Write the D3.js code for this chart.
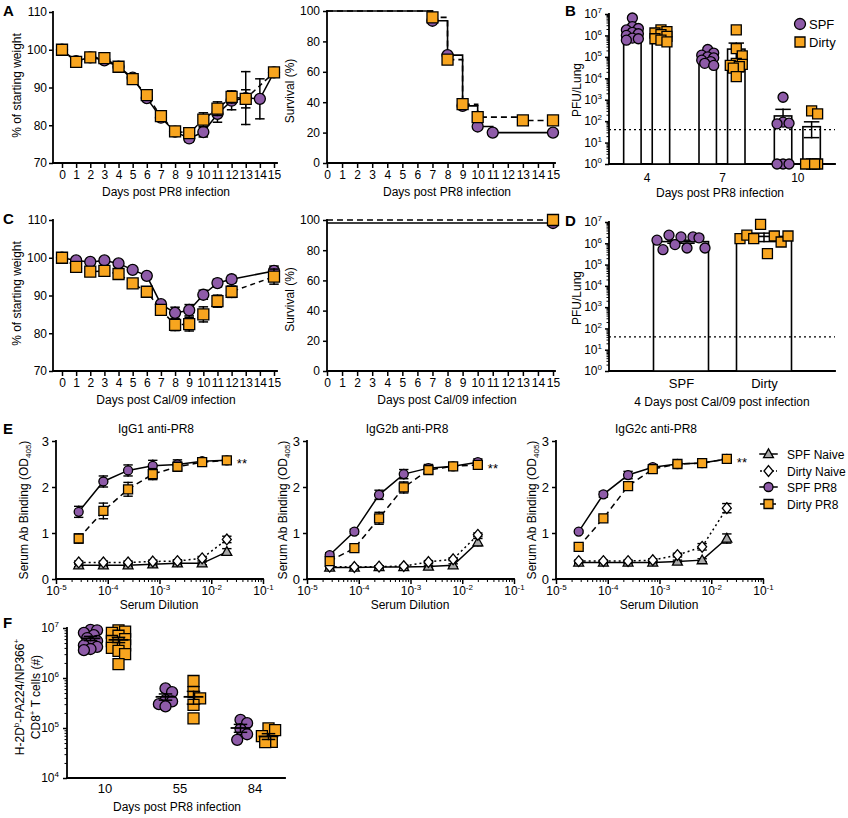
<!DOCTYPE html>
<html><head><meta charset="utf-8">
<script src="https://cdn.jsdelivr.net/npm/d3@7/dist/d3.min.js"></script>
<style>html,body{margin:0;padding:0;background:#fff}svg{display:block}</style>
</head><body>
<svg id="c" width="848" height="818" xmlns="http://www.w3.org/2000/svg"></svg>
<script>
// ================= DATA =================
const weightDays = [0,1,2,3,4,5,6,7,8,9,10,11,12,13,14,15];
const weightTicks = [70,80,90,100,110];
// A: weight after PR8
const weightA_SPF       = [100,97.0,98.0,97.2,95.5,92.6,87.2,82.0,78.3,76.5,78.2,83.0,86.5,87.2,87.0,94.0];
const weightA_SPF_err   = [0,0.5,0.5,0.5,0.5,0.7,0.8,0.8,0.8,0.9,1.3,2.2,2.4,7.0,5.3,0];
const weightA_Dirty     = [100,96.8,98.0,97.8,95.5,92.2,88.0,82.4,78.4,77.9,81.5,84.4,87.5,87.0,null,94.0];
const weightA_Dirty_err = [0,0.5,0.5,0.5,0.5,0.6,0.8,0.8,0.8,0.9,1.8,1.8,1.6,2.4,null,0];
// C: weight after Cal/09
const weightC_SPF       = [100,99.3,98.9,99.3,98.5,96.8,95.2,87.7,85.4,86.1,90.2,93.3,94.3,null,null,96.5];
const weightC_SPF_err   = [0,0.6,0.5,0.6,0.5,0.6,0.8,0.8,1.5,1.5,1.2,1.0,1.0,null,null,1.3];
const weightC_Dirty     = [100,97.6,96.3,96.5,95.7,93.2,91.0,86.2,82.2,82.4,85.0,88.5,91.0,null,null,95.0];
const weightC_Dirty_err = [0,0.5,0.6,0.6,0.6,1.0,0.8,0.8,1.5,1.8,2.0,1.6,1.5,null,null,2.0];
// Survival
const survTicks = [0,20,40,60,80,100];
const survA_SPF_days = [0,7,8,9,10,11,15];
const survA_SPF      = [100,93.6,71,37.6,24,20,20];
const survA_Dirty_days = [0,7,8,9,10,13,15];
const survA_Dirty      = [100,95.8,68,38.7,30.2,28,28];
const survC_days  = [0,15];
const survC_SPF   = [98,98];
const survC_Dirty = [100,100];
// B: PFU/lung after PR8
const pfuDays = ['4','7','10'];
const pfuB_SPF = [[6.5e6,2.6e6,2.1e6,1.8e6,1.4e6,1.2e6,1.0e6,7.5e5,7e5,6e5],
                  [2.2e5,1.5e5,1.2e5,1.0e5,9e4,7e4,6e4,5e4,4e4],
                  [1300,90,80,75,1,1,1]];
const pfuB_Dirty = [[1.8e6,1.5e6,1.3e6,1.1e6,9e5,7e5,6e5,5e5],
                    [1.8e6,2.4e5,1.1e5,5e4,4.5e4,4e4,3.5e4,3e4,1.2e4],
                    [300,220,1,1,1,1]];
const pfuB_SPF_mean = [1.5e6,1.0e5,175];
const pfuB_SPF_sem  = [5.5e5,2e4,180];
const pfuB_Dirty_mean = [1.1e6,2.3e5,55];
const pfuB_Dirty_sem  = [1.5e5,2.1e5,38];
const detectionLimit = 40;
// D: PFU/lung 4 days after Cal/09
const groupsD = ['SPF','Dirty'];
const pfuD_SPF   = [1.4e6,5e5,2.4e6,8.7e5,2e6,6e5,2e6,1.8e6,6e5];
const pfuD_Dirty = [1.65e6,2.4e6,1.65e6,7.8e6,3.3e5,2.2e6,1.15e6,2.2e6];
const pfuD_mean = [1.2e6,2.1e6];
const pfuD_sem  = [2e5,9e5];
// E: serum antibody binding
const dilutions = [1/36450,1/12150,1/4050,1/1350,1/450,1/150,1/50];
const eTitles = ['IgG1 anti-PR8','IgG2b anti-PR8','IgG2c anti-PR8'];
const eSeriesNames = ['SPF Naive','Dirty Naive','SPF PR8','Dirty PR8'];
const eTicks = [0,1,2,3];
const igg1_SPFNaive   = [0.30,0.30,0.30,0.32,0.34,0.34,0.59];
const igg1_SPFNaive_e = [0.03,0.03,0.03,0.03,0.03,0.03,0.07];
const igg1_DirtyNaive   = [0.36,0.36,0.36,0.38,0.39,0.45,0.86];
const igg1_DirtyNaive_e = [0.03,0.03,0.03,0.03,0.03,0.04,0.07];
const igg1_SPFPR8   = [1.46,2.12,2.36,2.46,2.49,2.56,2.58];
const igg1_SPFPR8_e = [0.12,0.12,0.12,0.12,0.10,0.06,0.03];
const igg1_DirtyPR8   = [0.88,1.48,1.95,2.28,2.44,2.54,2.58];
const igg1_DirtyPR8_e = [0.10,0.17,0.15,0.12,0.08,0.05,0.03];
const igg2b_SPFNaive   = [0.25,0.25,0.26,0.26,0.27,0.30,0.80];
const igg2b_SPFNaive_e = [0.03,0.03,0.03,0.03,0.03,0.03,0.08];
const igg2b_DirtyNaive   = [0.27,0.26,0.27,0.28,0.37,0.43,0.96];
const igg2b_DirtyNaive_e = [0.02,0.02,0.02,0.02,0.03,0.03,0.04];
const igg2b_SPFPR8   = [0.52,1.03,1.83,2.28,2.41,2.45,2.54];
const igg2b_SPFPR8_e = [0.05,0.05,0.10,0.10,0.08,0.05,0.07];
const igg2b_DirtyPR8   = [0.39,0.67,1.32,1.99,2.37,2.45,2.48];
const igg2b_DirtyPR8_e = [0.05,0.05,0.13,0.12,0.08,0.05,0.05];
const igg2c_SPFNaive   = [0.36,0.36,0.36,0.36,0.38,0.41,0.88];
const igg2c_SPFNaive_e = [0.02,0.02,0.02,0.02,0.03,0.03,0.10];
const igg2c_DirtyNaive   = [0.39,0.39,0.39,0.41,0.52,0.70,1.54];
const igg2c_DirtyNaive_e = [0.02,0.02,0.02,0.03,0.04,0.07,0.10];
const igg2c_SPFPR8   = [1.03,1.84,2.26,2.43,2.50,2.52,2.61];
const igg2c_SPFPR8_e = [0.03,0.06,0.08,0.06,0.04,0.04,0.03];
const igg2c_DirtyPR8   = [0.70,1.32,2.02,2.39,2.50,2.52,2.61];
const igg2c_DirtyPR8_e = [0.03,0.05,0.08,0.06,0.04,0.04,0.03];
const eSig = '**';
// F: tetramer+ CD8 T cells
const tDays = ['10','55','84'];
const tcell_SPF = [[9.2e6,9e6,8e6,7.2e6,6.3e6,5.5e6,5e6,4.5e6,4.2e6,3.8e6,3.6e6],
                   [6.2e5,5.2e5,3.6e5,3.4e5,3e5,2.7e5],
                   [1.45e5,1.25e5,9.5e4,7.5e4,5.8e4]];
const tcell_Dirty = [[9e6,8.5e6,8e6,7e6,6e6,5.5e6,5e6,4.5e6,4e6,3.5e6,3e6,1.9e6],
                     [8.7e5,5.2e5,3.9e5,2.9e5,1.56e5],
                     [9.8e4,9.1e4,6.9e4,5.3e4,5.2e4]];
const tcell_SPF_mean = [6.2e6,4.2e5,1.0e5];
const tcell_SPF_sem  = [6e5,6e4,1.8e4];
const tcell_Dirty_mean = [5.8e6,4.2e5,6.8e4];
const tcell_Dirty_sem  = [7e5,1.2e5,9e3];

// ================= HELPERS =================
const svg = d3.select('#c');
const FONT = '"Liberation Sans", Arial, Helvetica, sans-serif';
const PURPLE = '#8e5ba8', ORANGE = '#f8a51f', GRAYF = '#a9a9a9';

function text(x, y, parts, o = {}) {
  const t = svg.append('text').attr('x', x).attr('y', y)
    .attr('font-family', FONT).attr('font-size', o.size || 12)
    .attr('text-anchor', o.anchor || 'middle').attr('fill', '#000');
  if (o.bold) t.attr('font-weight', 'bold');
  if (o.rot) t.attr('transform', `rotate(-90,${x},${y})`);
  if (typeof parts === 'string') parts = [[parts]];
  let shift = 0;
  parts.forEach(([s, k]) => {
    const target = k === 'sup' ? -5 : k === 'sub' ? 3 : 0;
    const ts = t.append('tspan').text(s);
    if (target !== shift) ts.attr('dy', target - shift);
    if (k) ts.attr('font-size', 8);
    shift = target;
  });
  return t;
}
function line(x1, y1, x2, y2, w = 1.6, dash = null) {
  const l = svg.append('line').attr('x1', x1).attr('y1', y1).attr('x2', x2).attr('y2', y2)
    .attr('stroke', '#000').attr('stroke-width', w).attr('stroke-linecap', 'square');
  if (dash) l.attr('stroke-dasharray', dash).attr('stroke-linecap', 'butt');
  return l;
}
function styleAxis(g, fs = 12) {
  g.select('.domain').remove();
  g.selectAll('.tick line').attr('stroke', '#000').attr('stroke-width', 1.5);
  g.selectAll('.tick text').attr('font-family', FONT).attr('font-size', fs).attr('fill', '#000');
}
function linAxis(orient, scale, pos, ticks, o = {}) {
  const A = orient === 'left' ? d3.axisLeft : d3.axisBottom;
  const tr = orient === 'left' ? `translate(${pos},0)` : `translate(0,${pos})`;
  const ax = A(scale).tickValues(ticks).tickSize(o.size ?? 4).tickPadding(o.pad ?? 3).tickSizeOuter(0)
    .tickFormat(o.fmt || (d => String(d)));
  const g = svg.append('g').attr('transform', tr).call(ax);
  styleAxis(g, o.fs || 12);
  return g;
}
function logAxis(orient, scale, pos, lo, hi, o = {}) {
  const A = orient === 'left' ? d3.axisLeft : d3.axisBottom;
  const tr = orient === 'left' ? `translate(${pos},0)` : `translate(0,${pos})`;
  const majors = [], minors = [];
  for (let e = lo; e <= hi; e++) majors.push(Math.pow(10, e));
  for (let e = lo; e < hi; e++) for (let k = 2; k < 10; k++) minors.push(k * Math.pow(10, e));
  const gm = svg.append('g').attr('transform', tr)
    .call(A(scale).tickValues(minors).tickSize(o.minor ?? 2.5).tickFormat('').tickSizeOuter(0));
  styleAxis(gm); gm.selectAll('.tick line').attr('stroke-width', 1);
  const g = svg.append('g').attr('transform', tr)
    .call(A(scale).tickValues(majors).tickSize(o.size ?? 4).tickPadding(o.pad ?? 3).tickSizeOuter(0));
  styleAxis(g, o.fs || 12);
  g.selectAll('.tick text').each(function (d) {
    const e = Math.round(Math.log10(d));
    const t = d3.select(this); t.text(null);
    t.append('tspan').text('10');
    t.append('tspan').attr('dy', -5).attr('font-size', 8).text(e);
  });
  return g;
}
function shape(type, s) {
  const h = s / 2;
  switch (type) {
    case 'circle': return d3.symbol(d3.symbolCircle, Math.PI * h * h)();
    case 'square': return `M${-h},${-h}H${h}V${h}H${-h}Z`;
    case 'triangle': return `M0,${-h * 1.15}L${h * 1.1},${h * 0.8}L${-h * 1.1},${h * 0.8}Z`;
    case 'diamond': return `M0,${-h * 1.2}L${h * 1.0},0L0,${h * 1.2}L${-h * 1.0},0Z`;
  }
}
function drawMarkers(pts, type, s, fill, sw = 1.3) {
  svg.append('g').selectAll('path').data(pts).enter().append('path')
    .attr('d', shape(type, s)).attr('transform', d => `translate(${d.x},${d.y})`)
    .attr('fill', fill).attr('stroke', '#000').attr('stroke-width', sw);
}
function errBar(x, y1, y2, cap, w = 1.5) {
  line(x, y1, x, y2, w);
  line(x - cap / 2, y1, x + cap / 2, y1, w);
  line(x - cap / 2, y2, x + cap / 2, y2, w);
}
// deterministic beeswarm placement
function swarm(vals, y, cx, r, maxW) {
  const pts = vals.map(v => ({ v, y: y(v) }));
  const order = pts.slice().sort((a, b) => a.y - b.y);
  const placed = [];
  const minD = 2 * r * 0.8;
  order.forEach(p => {
    const cands = [0];
    for (let k = 1; k <= 14; k++) cands.push(k * r * 0.6, -k * r * 0.6);
    let chosen = null, bestD = -1, bestO = 0;
    for (const o of cands) {
      if (Math.abs(o) > maxW) continue;
      const d = placed.length ? Math.min(...placed.map(q => Math.hypot(q.x - (cx + o), q.y - p.y))) : Infinity;
      if (d >= minD) { chosen = o; break; }
      if (d > bestD) { bestD = d; bestO = o; }
    }
    p.x = cx + (chosen === null ? bestO : chosen);
    placed.push(p);
  });
  return pts;
}

// ================= PANEL LETTERS =================
text(3, 16, 'A', { anchor: 'start', bold: true, size: 15 });
text(565, 16, 'B', { anchor: 'start', bold: true, size: 15 });
text(3, 224, 'C', { anchor: 'start', bold: true, size: 15 });
text(565, 226, 'D', { anchor: 'start', bold: true, size: 15 });
text(3, 434, 'E', { anchor: 'start', bold: true, size: 15 });
text(3, 628, 'F', { anchor: 'start', bold: true, size: 15 });

// ================= WEIGHT PANELS =================
function weightPanel(yTop, yBot, spf, spfE, dirty, dirtyE, xTitle) {
  const x = d3.scaleLinear().domain([0, 15]).range([62, 274]);
  const y = d3.scaleLinear().domain([70, 110]).range([yBot, yTop]);
  linAxis('left', y, 53, weightTicks, { size: 4, pad: 2 });
  linAxis('bottom', x, yBot, weightDays, { size: 5, pad: 2 });
  line(53, yTop, 53, yBot, 1.8); line(53, yBot, 277, yBot, 1.8);
  text(21, (yTop + yBot) / 2 - 2, '% of starting weight', { rot: true });
  text(166, yBot + 33, xTitle);
  const series = [
    { v: spf, e: spfE, type: 'circle', fill: PURPLE, dash: null },
    { v: dirty, e: dirtyE, type: 'square', fill: ORANGE, dash: '5,4' }];
  series.forEach(s => {
    const pts = weightDays.map((d, i) => ({ d, v: s.v[i], e: s.e[i] })).filter(p => p.v != null);
    pts.forEach(p => { p.x = x(p.d); p.y = y(p.v); });
    const path = svg.append('path').datum(pts).attr('d', d3.line().x(p => p.x).y(p => p.y))
      .attr('fill', 'none').attr('stroke', '#000').attr('stroke-width', 1.5);
    if (s.dash) path.attr('stroke-dasharray', s.dash);
    pts.forEach(p => { if (p.e > 0) errBar(p.x, y(p.v - p.e), y(p.v + p.e), 8); });
    drawMarkers(pts, s.type, 11, s.fill);
  });
}
weightPanel(12, 163, weightA_SPF, weightA_SPF_err, weightA_Dirty, weightA_Dirty_err, 'Days post PR8 infection');
weightPanel(220, 371, weightC_SPF, weightC_SPF_err, weightC_Dirty, weightC_Dirty_err, 'Days post Cal/09 infection');

// ================= SURVIVAL PANELS =================
function survPanel(yTop, yBot, sets, xTitle) {
  const x = d3.scaleLinear().domain([0, 15]).range([327, 553]);
  const y = d3.scaleLinear().domain([0, 100]).range([yBot, yTop]);
  linAxis('left', y, 327, survTicks, { size: 4, pad: 3 });
  linAxis('bottom', x, yBot, weightDays, { size: 5, pad: 2 });
  line(327, yTop, 327, yBot, 1.8); line(327, yBot, 555, yBot, 1.8);
  text(294, (yTop + yBot) / 2 + 4, 'Survival (%)', { rot: true });
  text(447, yBot + 33, xTitle);
  sets.forEach(s => {
    const pts = s.days.map((d, i) => ({ x: x(d), y: y(s.v[i]) }));
    const p = svg.append('path').datum(pts).attr('d', d3.line().x(d => d.x).y(d => d.y).curve(d3.curveStepAfter))
      .attr('fill', 'none').attr('stroke', '#000').attr('stroke-width', 1.6);
    if (s.dash) p.attr('stroke-dasharray', s.dash);
  });
  sets.forEach(s => {
    const pts = s.days.map((d, i) => ({ x: x(d), y: y(s.v[i]) })).slice(1);
    drawMarkers(pts, s.type, 11, s.fill);
  });
}
survPanel(11, 163, [
  { days: survA_SPF_days, v: survA_SPF, type: 'circle', fill: PURPLE, dash: null },
  { days: survA_Dirty_days, v: survA_Dirty, type: 'square', fill: ORANGE, dash: '6,4' }], 'Days post PR8 infection');
survPanel(220, 371, [
  { days: survC_days, v: survC_SPF, type: 'circle', fill: PURPLE, dash: null },
  { days: survC_days, v: survC_Dirty, type: 'square', fill: ORANGE, dash: '6,4' }], 'Days post Cal/09 infection');

// ================= PANEL B =================
(function () {
  const y = d3.scaleLog().domain([1, 1e7]).range([164, 14]);
  const x = d3.scalePoint().domain(pfuDays).range([609, 835]).padding(0.5);
  const sub = d3.scaleBand().domain(['SPF', 'Dirty']).range([-23, 23]).paddingInner(0.39);
  logAxis('left', y, 609, 0, 7, { size: 4, pad: 3 });
  line(609, 14, 609, 164, 1.8); line(609, 164, 835, 164, 1.8);
  linAxis('bottom', x, 164, pfuDays, { size: 0, pad: 9 });
  text(581, 90, 'PFU/Lung', { rot: true });
  text(720, 197, 'Days post PR8 infection');
  const groups = [
    { name: 'SPF', pts: pfuB_SPF, mean: pfuB_SPF_mean, sem: pfuB_SPF_sem, type: 'circle', fill: PURPLE },
    { name: 'Dirty', pts: pfuB_Dirty, mean: pfuB_Dirty_mean, sem: pfuB_Dirty_sem, type: 'square', fill: ORANGE }];
  groups.forEach(g => pfuDays.forEach((d, i) => {
    const bx = x(d) + sub(g.name);
    svg.append('rect').attr('x', bx).attr('y', y(g.mean[i])).attr('width', sub.bandwidth())
      .attr('height', y(1) - y(g.mean[i])).attr('fill', '#fff').attr('stroke', '#000').attr('stroke-width', 1.6);
  }));
  line(609, y(detectionLimit), 835, y(detectionLimit), 1.4, '2,3');
  groups.forEach(g => pfuDays.forEach((d, i) => {
    const cx = x(d) + sub(g.name) + sub.bandwidth() / 2;
    const lo = g.mean[i] - g.sem[i];
    const hiY = y(g.mean[i] + g.sem[i]);
    if (lo > 1) errBar(cx, y(lo), hiY, 14);
    else { line(cx, y(g.mean[i]), cx, hiY, 1.5); line(cx - 7, hiY, cx + 7, hiY, 1.5); }
  }));
  groups.forEach(g => pfuDays.forEach((d, i) => {
    const cx = x(d) + sub(g.name) + sub.bandwidth() / 2;
    drawMarkers(swarm(g.pts[i], y, cx, 5, 8), g.type, 10, g.fill);
  }));
  // legend
  drawMarkers([{ x: 800, y: 24 }], 'circle', 11, PURPLE);
  drawMarkers([{ x: 800, y: 42 }], 'square', 10, ORANGE);
  text(809, 29, 'SPF', { anchor: 'start', size: 13 });
  text(809, 47, 'Dirty', { anchor: 'start', size: 13 });
})();

// ================= PANEL D =================
(function () {
  const y = d3.scaleLog().domain([1, 1e7]).range([371, 222]);
  const x = d3.scalePoint().domain(groupsD).range([681, 764]);
  logAxis('left', y, 609, 0, 7, { size: 4, pad: 3 });
  line(609, 222, 609, 371, 1.8); line(609, 371, 835, 371, 1.8);
  linAxis('bottom', x, 371, groupsD, { size: 0, pad: 8, fs: 13 });
  text(581, 298, 'PFU/Lung', { rot: true });
  text(722, 406, '4 Days post Cal/09 post infection');
  const bw = 55;
  const sets = [
    { pts: pfuD_SPF, type: 'circle', fill: PURPLE },
    { pts: pfuD_Dirty, type: 'square', fill: ORANGE }];
  groupsD.forEach((g, i) => {
    svg.append('rect').attr('x', x(g) - bw / 2).attr('y', y(pfuD_mean[i])).attr('width', bw)
      .attr('height', y(1) - y(pfuD_mean[i])).attr('fill', '#fff').attr('stroke', '#000').attr('stroke-width', 1.6);
  });
  line(609, y(detectionLimit), 835, y(detectionLimit), 1.4, '2,3');
  groupsD.forEach((g, i) => {
    const cx = x(g);
    errBar(cx, y(pfuD_mean[i] - pfuD_sem[i]), y(pfuD_mean[i] + pfuD_sem[i]), 26);
    const vals = sets[i].pts, n = vals.length;
    const pts = vals.map((v, j) => ({ x: cx - 24 + 48 * j / (n - 1), y: y(v) }));
    drawMarkers(pts, sets[i].type, 10, sets[i].fill);
  });
})();

// ================= PANEL E =================
const eData = [
  [[igg1_SPFNaive, igg1_SPFNaive_e], [igg1_DirtyNaive, igg1_DirtyNaive_e], [igg1_SPFPR8, igg1_SPFPR8_e], [igg1_DirtyPR8, igg1_DirtyPR8_e]],
  [[igg2b_SPFNaive, igg2b_SPFNaive_e], [igg2b_DirtyNaive, igg2b_DirtyNaive_e], [igg2b_SPFPR8, igg2b_SPFPR8_e], [igg2b_DirtyPR8, igg2b_DirtyPR8_e]],
  [[igg2c_SPFNaive, igg2c_SPFNaive_e], [igg2c_DirtyNaive, igg2c_DirtyNaive_e], [igg2c_SPFPR8, igg2c_SPFPR8_e], [igg2c_DirtyPR8, igg2c_DirtyPR8_e]]];
const eStyle = [
  { type: 'triangle', fill: GRAYF, dash: null },
  { type: 'diamond', fill: '#fff', dash: '2,3' },
  { type: 'circle', fill: PURPLE, dash: null },
  { type: 'square', fill: ORANGE, dash: '6,4' }];
const eAxisX = [56, 307, 556];
const eLabelX = [28, 287, 536];
eData.forEach((panel, pi) => {
  const ax = eAxisX[pi];
  const x = d3.scaleLog().domain([1e-5, 1e-1]).range([ax, ax + 207]);
  const y = d3.scaleLinear().domain([0, 3]).range([579, 441]);
  linAxis('left', y, ax, eTicks, { size: 4, pad: 3, fs: 13 });
  logAxis('bottom', x, 579, -5, -1, { size: 5, pad: 2, minor: 3 });
  line(ax, 441, ax, 579, 1.8); line(ax, 579, ax + 207, 579, 1.8);
  text(ax + 100, 433, eTitles[pi]);
  text(ax + 103, 609, 'Serum Dilution');
  text(eLabelX[pi], 510, [['Serum Ab Binding (OD'], ['405', 'sub'], [')']], { rot: true });
  panel.forEach(([vals, errs], si) => {
    const st = eStyle[si];
    const pts = dilutions.map((d, i) => ({ x: x(d), y: y(vals[i]), v: vals[i], e: errs[i] }));
    const p = svg.append('path').datum(pts).attr('d', d3.line().x(d => d.x).y(d => d.y))
      .attr('fill', 'none').attr('stroke', '#000').attr('stroke-width', 1.5);
    if (st.dash) p.attr('stroke-dasharray', st.dash);
    pts.forEach(q => errBar(q.x, y(q.v - q.e), y(q.v + q.e), 8, 1.4));
    drawMarkers(pts, st.type, 9, st.fill);
  });
  const last = panel[3][0][6];
  text(x(dilutions[6]) + 10, y(last) + 8, eSig, { anchor: 'start', size: 13 });
});
// E legend
eSeriesNames.forEach((name, i) => {
  const ly = [454, 471, 487, 504][i];
  const st = eStyle[i];
  line(760, ly, 777, ly, 1.5, st.dash ? (i === 1 ? '2,2' : '4,2') : null);
  drawMarkers([{ x: 768.5, y: ly }], st.type, 9, st.fill);
  text(787, ly + 5, name, { anchor: 'start', size: 12 });
});

// ================= PANEL F =================
(function () {
  const y = d3.scaleLog().domain([1e4, 1e7]).range([778, 628]);
  const x = d3.scalePoint().domain(tDays).range([67, 292]).padding(0.5);
  logAxis('left', y, 67, 4, 7, { size: 4, pad: 4 });
  line(67, 628, 67, 778, 1.8); line(67, 778, 285, 778, 1.8);
  linAxis('bottom', x, 778, tDays, { size: 0, pad: 6, fs: 13 });
  text(177, 811, 'Days post PR8 infection');
  text(24, 697, [['H-2D'], ['b', 'sup'], ['-PA224/NP366'], ['+', 'sup']], { rot: true });
  text(40, 697, [['CD8'], ['+', 'sup'], [' T cells (#)']], { rot: true });
  const sets = [
    { pts: tcell_SPF, mean: tcell_SPF_mean, sem: tcell_SPF_sem, off: -14, type: 'circle', fill: PURPLE },
    { pts: tcell_Dirty, mean: tcell_Dirty_mean, sem: tcell_Dirty_sem, off: 14, type: 'square', fill: ORANGE }];
  sets.forEach(s => tDays.forEach((d, i) => {
    const cx = x(d) + s.off;
    drawMarkers(swarm(s.pts[i], y, cx, 5.5, 9), s.type, 11, s.fill);
  }));
  sets.forEach(s => tDays.forEach((d, i) => {
    const cx = x(d) + s.off;
    errBar(cx, y(s.mean[i] - s.sem[i]), y(s.mean[i] + s.sem[i]), 12, 1.5);
    line(cx - 9, y(s.mean[i]), cx + 9, y(s.mean[i]), 1.8);
  }));
})();
</script>
</body></html>
